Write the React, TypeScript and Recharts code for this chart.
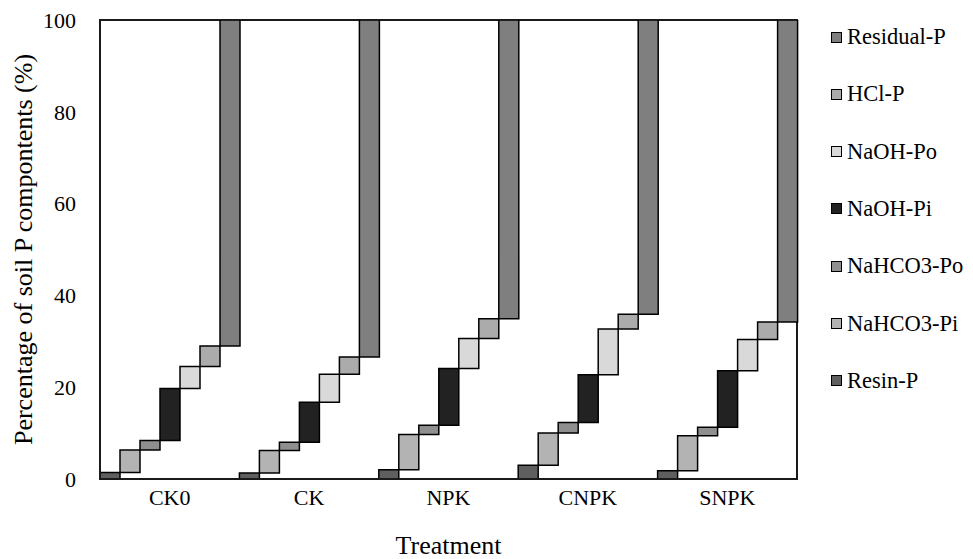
import React from 'react';
import { BarChart, Bar, XAxis, YAxis, ReferenceArea } from 'recharts';

const categories = ['CK0', 'CK', 'NPK', 'CNPK', 'SNPK'];
const resinP = [1.4, 1.3, 2.0, 3.0, 1.8];
const nahco3Pi = [4.9, 4.9, 7.7, 7.0, 7.6];
const nahco3Po = [2.1, 1.8, 2.0, 2.3, 1.9];
const naohPi = [11.3, 8.7, 12.4, 10.4, 12.3];
const naohPo = [4.8, 6.1, 6.5, 10.0, 6.8];
const hclP = [4.5, 3.8, 4.3, 3.2, 3.8];
const residualP = [71.0, 73.4, 65.1, 64.1, 65.8];
const yTicks = [0, 20, 40, 60, 80, 100];

const series = [
  { key: 'resin', name: 'Resin-P', values: resinP, color: '#5f5f5f' },
  { key: 'nahco3Pi', name: 'NaHCO3-Pi', values: nahco3Pi, color: '#b3b3b3' },
  { key: 'nahco3Po', name: 'NaHCO3-Po', values: nahco3Po, color: '#8f8f8f' },
  { key: 'naohPi', name: 'NaOH-Pi', values: naohPi, color: '#222222' },
  { key: 'naohPo', name: 'NaOH-Po', values: naohPo, color: '#d9d9d9' },
  { key: 'hcl', name: 'HCl-P', values: hclP, color: '#ababab' },
  { key: 'residual', name: 'Residual-P', values: residualP, color: '#7f7f7f' },
];

const data = categories.map((c, i) => {
  const row: any = { name: c };
  let acc = 0;
  series.forEach((s) => {
    const start = acc;
    acc = +(acc + s.values[i]).toFixed(2);
    row[s.key] = [start, Math.min(acc, 100)];
  });
  return row;
});

const FONT = '"Liberation Serif", "Times New Roman", serif';

const legendOrder = [...series].reverse();

const LegendBox = () => (
  <div style={{ position: 'absolute', left: 831, top: 25, fontFamily: FONT }}>
    {legendOrder.map((s, i) => (
      <div
        key={s.key}
        style={{
          position: 'absolute',
          left: 0,
          top: i * 57.3,
          height: 24,
          display: 'flex',
          alignItems: 'center',
          whiteSpace: 'nowrap',
          fontSize: 22.5,
          color: '#000',
        }}
      >
        <span
          style={{
            display: 'inline-block',
            width: 9,
            height: 9,
            background: s.color,
            border: '1.5px solid #000',
            marginRight: 5,
          }}
        />
        <span>{s.name}</span>
      </div>
    ))}
  </div>
);

export default function App() {
  return (
    <div style={{ position: 'absolute', left: 0, top: 0, width: 973, height: 559, background: '#fff' }}>
      <BarChart
        width={973}
        height={559}
        data={data}
        margin={{ top: 20, right: 176, bottom: 30, left: 40 }}
        barCategoryGap={0}
        barGap={0}
      >
        <XAxis
          dataKey="name"
          height={50}
          tickLine={false}
          tickSize={0}
          tickMargin={10}
          axisLine={{ stroke: '#1a1a1a', strokeWidth: 2 }}
          tick={{ fill: '#000', fontSize: 22, fontFamily: FONT }}
          label={{ value: 'Treatment', position: 'bottom', offset: 7, style: { fill: '#000', fontSize: 26, fontFamily: FONT } }}
        />
        <YAxis
          domain={[0, 100]}
          ticks={yTicks}
          width={60}
          tickLine={false}
          tickSize={0}
          tickMargin={24}
          allowDataOverflow
          axisLine={{ stroke: '#1a1a1a', strokeWidth: 2 }}
          tick={{ fill: '#000', fontSize: 22, fontFamily: FONT }}
          label={{
            value: 'Percentage of soil P compontents (%)',
            angle: -90,
            position: 'left',
            offset: 17,
            style: { textAnchor: 'middle', fill: '#000', fontSize: 26, fontFamily: FONT },
          }}
        />
        {series.map((s) => (
          <Bar
            key={s.key}
            dataKey={s.key}
            name={s.name}
            fill={s.color}
            stroke="#000"
            strokeWidth={1.5}
            isAnimationActive={false}
          />
        ))}
        <ReferenceArea y1={0} y2={100} fill="none" fillOpacity={0} stroke="#1a1a1a" strokeWidth={2} ifOverflow="visible" />
      </BarChart>
      <LegendBox />
    </div>
  );
}
